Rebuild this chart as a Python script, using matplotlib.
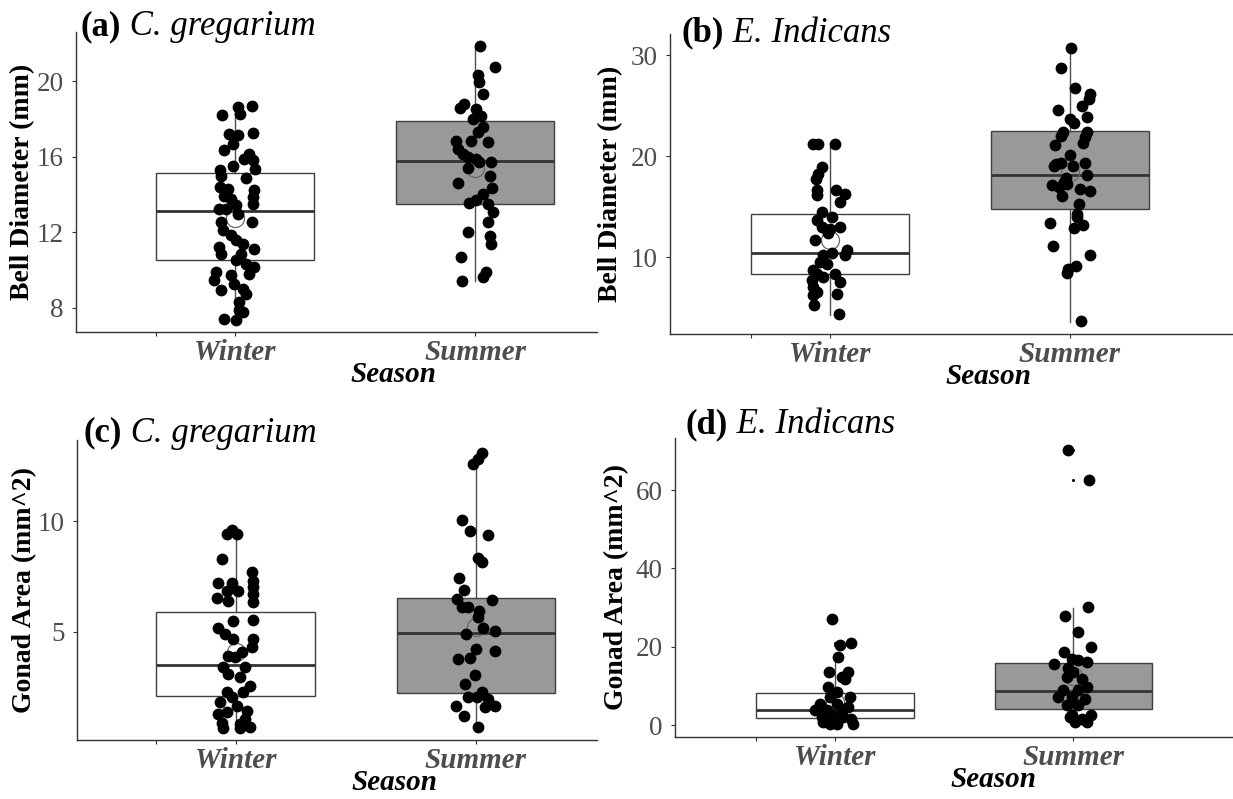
import matplotlib
matplotlib.use('Agg')
import matplotlib.pyplot as plt
import numpy as np

plt.rcParams['font.family'] = ['Liberation Serif', 'DejaVu Serif']

seasons = ['Winter', 'Summer']

a_win_y = [18.71, 18.62, 18.22, 18.27, 17.22, 17.16, 17.25, 16.65, 16.37, 16.16, 15.89, 15.81, 15.49, 15.31, 15.37,
           14.89, 14.96, 14.40, 14.31, 14.22, 13.87, 13.90, 13.78, 13.52, 13.25, 13.25, 13.43, 12.95, 12.55, 12.55,
           12.11, 11.84, 11.58, 11.40, 11.22, 10.87, 11.14, 10.87, 10.52, 10.34, 10.17, 9.82, 9.90, 9.73, 9.46,
           9.29, 8.97, 9.02, 8.76, 8.32, 7.44, 7.35, 7.79, 7.88]
a_win_dx = [0.071, 0.014, -0.056, 0.022, -0.024, 0.011, 0.076, -0.010, -0.047, 0.060, 0.039, 0.074, -0.010, -0.061, 0.083,
            0.046, -0.058, -0.063, -0.031, 0.081, 0.074, -0.044, -0.017, 0.074, -0.068, -0.038, 0.004, 0.014, -0.058, 0.069,
            -0.051, -0.017, 0.004, 0.032, -0.065, -0.058, 0.081, 0.025, 0.004, 0.046, 0.081, 0.060, -0.079, -0.017, -0.086,
            -0.003, -0.058, 0.032, 0.046, 0.018, -0.044, 0.004, 0.032, 0.018]
a_sum_y = [21.88, 20.77, 20.30, 19.94, 19.33, 18.77, 18.59, 18.54, 18.18, 18.01, 17.57, 17.30, 16.86, 16.86, 16.77,
           16.42, 16.16, 15.98, 15.89, 15.72, 15.72, 15.42, 14.63, 14.98, 14.36, 14.01, 13.69, 13.55, 13.52, 13.07,
           12.55, 12.02, 11.79, 11.40, 10.70, 9.90, 9.64, 9.43]
a_sum_dx = [0.022, 0.081, 0.014, 0.018, 0.032, -0.044, -0.061, 0.004, 0.025, -0.010, 0.032, 0.011, -0.079, -0.019, 0.053,
            -0.072, -0.051, -0.031, 0.004, 0.018, 0.067, -0.031, -0.069, 0.064, 0.069, 0.032, 0.004, -0.024, 0.053, 0.074,
            0.053, -0.031, 0.064, 0.067, -0.058, 0.046, 0.032, -0.056]

b_win_y = [21.19, 21.19, 21.19, 18.94, 18.28, 17.79, 16.63, 16.14, 16.63, 16.30, 15.48, 14.49, 13.66, 13.99, 13.00,
           13.00, 12.84, 12.35, 11.75, 10.76, 10.20, 10.20, 10.37, 9.54, 9.37, 8.71, 8.38, 8.38, 7.72, 8.05,
           7.56, 7.06, 6.57, 6.24, 6.40, 5.25, 4.36]
b_win_dx = [-0.072, -0.049, 0.021, -0.035, -0.049, -0.058, -0.056, -0.053, 0.025, 0.063, 0.042, -0.035, -0.056, 0.007, 0.042,
            -0.035, 0.000, -0.007, -0.063, 0.069, 0.063, -0.028, 0.007, -0.042, -0.014, -0.069, -0.056, 0.021, -0.076, -0.028,
            0.042, -0.069, -0.056, -0.069, 0.028, -0.067, 0.039]
b_sum_y = [30.73, 28.75, 26.80, 26.20, 25.71, 24.55, 24.98, 23.89, 23.66, 23.33, 22.41, 22.01, 22.41, 21.91, 21.35,
           21.09, 20.17, 19.27, 19.04, 19.37, 19.01, 19.37, 18.12, 17.85, 17.46, 17.13, 17.29, 16.96, 16.80, 16.53,
           16.07, 15.31, 14.32, 13.99, 13.40, 12.90, 13.23, 11.12, 10.26, 9.14, 8.88, 8.48, 3.70]
b_sum_dx = [0.006, -0.039, 0.021, 0.083, 0.079, -0.050, 0.051, 0.072, 0.000, 0.019, -0.028, -0.036, 0.072, 0.065, 0.056,
            -0.060, -0.001, -0.056, -0.067, -0.039, 0.014, 0.063, 0.072, -0.018, -0.025, -0.074, -0.011, -0.046, 0.044, 0.083,
            -0.032, 0.038, 0.031, 0.028, -0.081, 0.017, 0.056, -0.071, 0.082, 0.024, -0.008, -0.011, 0.047]

c_win_y = [9.44, 9.62, 9.44, 8.30, 7.70, 7.20, 7.20, 7.32, 7.02, 6.86, 6.86, 6.71, 6.53, 6.41, 6.36,
           5.50, 5.53, 5.17, 4.89, 4.67, 4.67, 4.06, 4.29, 3.91, 3.83, 3.41, 3.41, 3.08, 2.92, 2.55,
           2.24, 2.24, 2.02, 1.79, 1.64, 1.26, 1.33, 1.41, 1.05, 0.85, 0.80, 0.62, 0.62, 0.65]
c_win_dx = [-0.038, -0.017, 0.004, -0.056, 0.069, -0.072, -0.017, 0.074, 0.074, -0.038, 0.011, 0.074, -0.079, -0.031, 0.074,
            -0.010, 0.074, -0.072, -0.044, -0.010, 0.074, 0.025, 0.067, -0.031, -0.003, -0.051, 0.039, -0.031, 0.018, 0.060,
            -0.038, 0.032, -0.017, -0.065, 0.004, -0.072, -0.038, 0.046, 0.039, -0.058, 0.018, -0.051, 0.018, 0.060]
c_sum_y = [13.11, 12.85, 12.59, 10.05, 9.59, 9.39, 8.35, 8.15, 7.44, 6.89, 6.48, 6.44, 6.11, 6.14, 5.95,
           5.65, 5.17, 4.89, 5.02, 4.21, 3.80, 3.76, 4.11, 3.03, 2.62, 2.02, 2.05, 2.24, 1.94, 1.56,
           1.61, 1.61, 1.15, 0.68]
c_sum_dx = [0.028, 0.011, -0.010, -0.058, -0.024, 0.053, 0.008, 0.028, -0.068, -0.047, -0.079, 0.067, -0.058, -0.033, 0.014,
            0.011, 0.032, -0.042, 0.081, 0.000, -0.024, -0.072, 0.081, -0.003, -0.044, -0.031, 0.004, 0.025, 0.053, 0.039,
            0.081, -0.082, -0.047, 0.008]

d_win_y = [27.2, 20.4, 20.9, 17.3, 13.6, 13.6, 12.3, 11.9, 9.8, 8.5, 7.2, 7.2, 5.5, 5.5, 3.8,
           3.8, 4.7, 3.8, 2.1, 2.6, 2.1, 1.7, 0.85, 0.2, 0.3, 0.4]
d_win_dx = [-0.014, 0.021, 0.069, 0.014, -0.024, 0.056, 0.028, 0.042, -0.028, 0.007, 0.063, -0.021, -0.063, 0.007, -0.083,
            -0.035, 0.056, 0.028, -0.056, -0.014, 0.035, 0.069, -0.049, 0.007, 0.076, -0.021]
d_sum_y = [70.2, 62.6, 30.1, 27.8, 23.8, 20.0, 18.7, 15.6, 17.0, 16.2, 16.6, 14.5, 13.6, 12.3, 11.9,
           9.8, 8.9, 8.9, 7.2, 7.2, 6.8, 5.1, 5.1, 2.6, 2.6, 1.7, 0.85, 2.1, 0.85]
d_sum_dx = [-0.023, 0.064, 0.060, -0.035, 0.018, 0.074, -0.038, -0.079, -0.007, 0.056, 0.021, -0.021, 0.000, -0.028, 0.035,
            0.056, -0.042, 0.021, -0.063, -0.007, 0.049, -0.028, 0.021, -0.007, 0.076, 0.035, 0.007, -0.014, 0.056]

# box summaries: [whisker low, Q1, median, Q3, whisker high]
a_box = [[7.40, 10.52, 13.13, 15.13, 18.70], [9.41, 13.52, 15.77, 17.88, 21.80]]
b_box = [[4.30, 8.30, 10.45, 14.28, 21.00], [3.60, 14.75, 18.10, 22.45, 30.60]]
c_box = [[0.62, 2.10, 3.50, 5.90, 9.60], [0.68, 2.21, 4.93, 6.53, 13.00]]
d_box = [[0.10, 1.90, 3.90, 8.20, 17.30], [0.30, 4.26, 8.77, 15.90, 29.80]]
d_fliers = [[20.4, 20.9, 27.2], [62.6, 70.2]]

# group means (hollow circle)
a_mean = [12.74, 15.40]
b_mean = [11.70, 18.40]
c_mean = [4.06, 5.20]
d_mean = [6.00, 12.50]

W, H = 1233, 799
fig = plt.figure(figsize=(W / 100, H / 100), dpi=100)


def panel(rect, box, fliers, means, pts, xlim, ylim, yticks, tag, species, ylabel, title_xy, ylab_x, seas_x):
    l, t, r, b = rect
    ax = fig.add_axes([l / W, 1 - b / H, (r - l) / W, (b - t) / H])
    stats = []
    for i in range(2):
        lo, q1, med, q3, hi = box[i]
        stats.append(dict(whislo=lo, q1=q1, med=med, q3=q3, whishi=hi, fliers=fliers[i]))
    bp = ax.bxp(stats, positions=[1, 2], widths=0.66, patch_artist=True, showcaps=False,
                boxprops=dict(edgecolor='#404040', linewidth=1.0),
                whiskerprops=dict(color='#4d4d4d', linewidth=1.0),
                medianprops=dict(color='#333333', linewidth=2.0),
                flierprops=dict(marker='o', markersize=2.2, markerfacecolor='black', markeredgecolor='none'),
                zorder=1)
    bp['boxes'][0].set_facecolor('white')
    bp['boxes'][1].set_facecolor('#999999')

    # mean marker sits under the jittered points
    ax.plot([1, 2], means, 'o', markerfacecolor='none', markeredgecolor='#666666', markersize=13,
            markeredgewidth=0.9, zorder=2)
    for i, (yy, dx) in enumerate(pts):
        ax.plot(i + 1 + np.array(dx), yy, 'o', color='black', markersize=8.5, markeredgewidth=0, zorder=3)

    ax.set_xlim(*xlim)
    ax.set_ylim(*ylim)
    ax.set_yticks(yticks)
    ax.set_xticks([0.67, 1, 2])
    ax.set_xticklabels(['', seasons[0], seasons[1]], fontsize=21, fontweight='bold', style='italic', color='#4d4d4d')
    ax.tick_params(axis='y', labelsize=19.5, labelcolor='#4d4d4d', length=3, width=0.8, color='#333333', pad=6)
    ax.tick_params(axis='x', length=3, width=0.8, color='#333333', pad=2)
    for s in ['top', 'right']:
        ax.spines[s].set_visible(False)
    for s in ['left', 'bottom']:
        ax.spines[s].set_color('#333333')
        ax.spines[s].set_linewidth(1.0)

    ax.set_ylabel(ylabel, fontsize=20, fontweight='bold', color='black')
    ax.yaxis.set_label_coords(ylab_x, 0.5)
    ax.set_xlabel('Season', fontsize=21, fontweight='bold', style='italic', color='black')
    ax.xaxis.set_label_coords(seas_x, -0.098)

    t1 = ax.text(title_xy[0], title_xy[1], tag, transform=ax.transAxes, fontsize=25, fontweight='bold',
                 ha='left', va='baseline')
    ax.annotate(' ' + species, xy=(1, 0), xycoords=t1, fontsize=25, style='italic', ha='left', va='bottom')
    return ax


panel((76, 32, 597, 332), a_box, [[], []], a_mean, [(a_win_y, a_win_dx), (a_sum_y, a_sum_dx)],
      (0.3375, 2.508), (6.73, 22.6), [8, 12, 16, 20], '(a)', 'C. gregarium', 'Bell Diameter (mm)',
      (0.008, 0.99), -0.079, 0.61)
panel((670, 34, 1233, 334), b_box, [[], []], b_mean, [(b_win_y, b_win_dx), (b_sum_y, b_sum_dx)],
      (0.333, 2.68), (2.4, 32.1), [10, 20, 30], '(b)', 'E. Indicans', 'Bell Diameter (mm)',
      (0.02, 0.974), -0.084, 0.566)
panel((77, 440, 597, 740), c_box, [[], []], c_mean, [(c_win_y, c_win_dx), (c_sum_y, c_sum_dx)],
      (0.339, 2.505), (0.08, 13.7), [5, 10], '(c)', 'C. gregarium', 'Gonad Area (mm^2)',
      (0.012, 0.994), -0.077, 0.61)
panel((675, 438, 1233, 737), d_box, d_fliers, d_mean, [(d_win_y, d_win_dx), (d_sum_y, d_sum_dx)],
      (0.329, 2.67), (-3.0, 73.3), [0, 20, 40, 60], '(d)', 'E. Indicans', 'Gonad Area (mm^2)',
      (0.019, 1.016), -0.082, 0.57)

plt.savefig('out.png', dpi=100)
plt.close()
